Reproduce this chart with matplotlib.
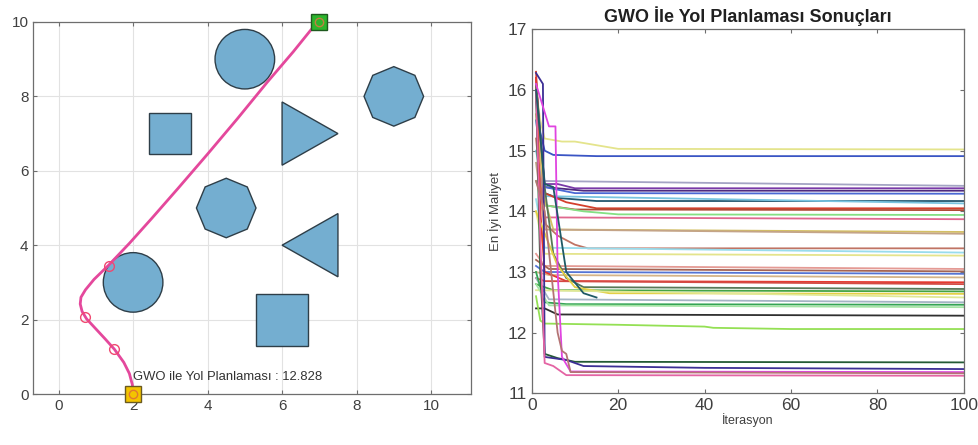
import numpy as np
import matplotlib
matplotlib.use("Agg")
import matplotlib.pyplot as plt
from matplotlib.patches import Circle, Rectangle, Polygon

plt.rcParams['font.family'] = ['Liberation Sans', 'DejaVu Sans']

# ---------------- Data: left panel ----------------
circle_obstacles = [(5.0, 9.0, 0.8), (2.0, 3.0, 0.8)]            # cx, cy, r
square_obstacles = [(3.0, 7.0, 1.12), (6.0, 2.0, 1.4)]           # cx, cy, side
octagon_obstacles = [(4.5, 5.0, 0.8), (9.0, 8.0, 0.8)]           # cx, cy, r
triangle_obstacles = [
    [(6.0, 7.85), (6.0, 6.15), (7.5, 7.0)],
    [(7.5, 4.85), (7.5, 3.15), (6.0, 4.0)],
]
path_x = [2.0, 1.98, 1.9, 1.75, 1.5, 1.25, 1.0, 0.75, 0.63, 0.58, 0.6, 0.72,
          0.95, 1.35, 1.9, 2.5, 3.2, 4.0, 4.8, 5.6, 6.3, 6.8, 7.0]
path_y = [0.0, 0.25, 0.55, 0.85, 1.2, 1.48, 1.75, 2.02, 2.22, 2.42, 2.6, 2.8,
          3.08, 3.47, 4.05, 4.72, 5.52, 6.45, 7.4, 8.38, 9.2, 9.82, 10.0]
waypoints_x = [1.5, 0.7, 1.35]
waypoints_y = [1.2, 2.08, 3.45]
start_pt = (2.0, 0.0)
goal_pt = (7.0, 10.0)
best_cost = 12.828
left_xticks = [0, 2, 4, 6, 8, 10]
left_yticks = [0, 2, 4, 6, 8, 10]

# ---------------- Data: right panel (convergence curves) ----------------
curve_colors = [
    '#e4e48c', '#3a55c4', '#a4a4c4', '#7a3aa8', '#4e2a80', '#4a68d4', '#22566e',
    '#78c4e0', '#d4402c', '#b04a34', '#84e084', '#e0688e', '#d4c064', '#c4a488',
    '#c07464', '#98dcec', '#e4e48c', '#e49a94', '#a46454', '#5474d4', '#d4b488',
    '#e43a30', '#d44a44', '#587858', '#44a444', '#e4d044', '#e0e894', '#a4b4c4',
    '#34a454', '#a4e4a4', '#303030', '#94e054', '#245a34', '#3c2e94', '#e044e0',
    '#e464a4', '#b47474', '#1f5a66',
]
curve_x = [
    [1, 2, 3, 7, 10, 20, 100],
    [1, 2, 3, 5, 15, 100],
    [1, 3, 100],
    [1, 2, 3, 6, 10, 100],
    [1, 3, 12, 100],
    [1, 3, 10, 100],
    [1, 3, 6, 15, 100],
    [1, 3, 100],
    [1, 2, 3, 8, 15, 100],
    [1, 3, 10, 100],
    [1, 3, 12, 20, 100],
    [1, 3, 100],
    [1, 3, 5, 100],
    [1, 3, 100],
    [1, 3, 6, 10, 13, 100],
    [1, 3, 100],
    [1, 3, 100],
    [1, 3, 100],
    [1, 4, 100],
    [1, 3, 100],
    [1, 4, 100],
    [1, 2, 3, 8, 100],
    [1, 3, 100],
    [1, 3, 5, 8, 12, 100],
    [1, 5, 100],
    [1, 6, 10, 18, 100],
    [1, 100],
    [1, 4, 100],
    [1, 3, 8, 100],
    [1, 4, 100],
    [1, 3, 6, 100],
    [1, 2, 3, 20, 40, 42, 60, 100],
    [1, 2, 3, 6, 10, 100],
    [1, 2.6, 3, 8, 12, 40, 100],
    [1, 4, 5.5, 6, 7, 9, 100],
    [1, 2, 3, 5, 8, 100],
    [1, 3, 6, 7, 8, 9, 100],
    [1, 3, 5, 8, 12, 15],
]
curve_y = [
    [16.0, 15.5, 15.2, 15.15, 15.15, 15.03, 15.02],
    [16.1, 15.3, 15.0, 14.93, 14.91, 14.91],
    [15.8, 14.5, 14.42],
    [16.2, 15.0, 14.45, 14.45, 14.38, 14.38],
    [16.0, 14.4, 14.34, 14.34],
    [15.5, 14.4, 14.3, 14.29],
    [15.9, 14.3, 14.22, 14.17, 14.17],
    [15.0, 14.25, 14.13],
    [16.3, 15.0, 14.3, 14.15, 14.05, 14.05],
    [16.1, 14.1, 14.03, 14.02],
    [14.5, 14.1, 14.0, 13.95, 13.94],
    [16.0, 13.9, 13.87],
    [15.6, 14.2, 13.7, 13.66],
    [14.8, 13.7, 13.63],
    [15.2, 13.8, 13.6, 13.45, 13.39, 13.39],
    [14.2, 13.4, 13.32],
    [14.0, 13.3, 13.27],
    [13.3, 13.1, 13.05],
    [13.2, 13.05, 13.01],
    [13.1, 13.0, 12.97],
    [13.0, 12.95, 12.91],
    [16.2, 14.0, 13.0, 12.85, 12.83],
    [12.9, 12.85, 12.80],
    [16.1, 14.4, 13.3, 12.9, 12.75, 12.72],
    [12.8, 12.7, 12.68],
    [14.0, 13.1, 12.75, 12.65, 12.64],
    [12.7, 12.58],
    [12.9, 12.55, 12.50],
    [13.0, 12.5, 12.47, 12.46],
    [12.8, 12.45, 12.42],
    [12.4, 12.4, 12.3, 12.28],
    [12.6, 12.2, 12.15, 12.13, 12.1, 12.08, 12.06, 12.06],
    [16.0, 13.0, 11.65, 11.58, 11.52, 11.51],
    [16.28, 16.1, 11.6, 11.55, 11.45, 11.42, 11.40],
    [16.1, 15.4, 15.4, 13.0, 11.6, 11.36, 11.35],
    [16.0, 13.5, 11.5, 11.45, 11.30, 11.29],
    [14.5, 14.0, 12.0, 11.7, 11.65, 11.35, 11.33],
    [16.0, 14.45, 14.4, 13.0, 12.65, 12.58],
]
right_xticks = [0, 20, 40, 60, 80, 100]
right_yticks = [11, 12, 13, 14, 15, 16, 17]

# ---------------- Figure ----------------
fig = plt.figure(figsize=(9.79, 4.45), dpi=100)
tick_color = '#404040'
spine_color = '#6e6e6e'
obst_face = '#74aed0'
obst_edge = '#2e3e48'
path_color = '#e4489c'

ax1 = fig.add_axes([0.0340, 0.1146, 0.4474, 0.8360])
for cx, cy, r in circle_obstacles:
    ax1.add_patch(Circle((cx, cy), r, fc=obst_face, ec=obst_edge, lw=1.0, zorder=2))
for cx, cy, s in square_obstacles:
    ax1.add_patch(Rectangle((cx - s / 2, cy - s / 2), s, s, fc=obst_face, ec=obst_edge, lw=1.0, zorder=2))
oct_angles = np.deg2rad(np.arange(0, 360, 45))
for cx, cy, r in octagon_obstacles:
    verts = np.column_stack([cx + r * np.cos(oct_angles), cy + r * np.sin(oct_angles)])
    ax1.add_patch(Polygon(verts, closed=True, fc=obst_face, ec=obst_edge, lw=1.0, zorder=2))
for tri in triangle_obstacles:
    ax1.add_patch(Polygon(tri, closed=True, fc=obst_face, ec=obst_edge, lw=1.0, zorder=2))

ax1.plot(path_x, path_y, color=path_color, lw=2.0, zorder=3, solid_capstyle='round')
ax1.plot(waypoints_x, waypoints_y, 'o', mfc='none', mec='#f04870', ms=7, mew=1.0, zorder=4)
ax1.plot([start_pt[0]], [start_pt[1]], 's', mfc='#f4c400', mec='#6a5a20', ms=11.5, mew=1.0, zorder=5, clip_on=False)
ax1.plot([start_pt[0]], [start_pt[1]], 'o', mfc='none', mec='#e07a30', ms=6, mew=1.0, zorder=6, clip_on=False)
ax1.plot([goal_pt[0]], [goal_pt[1]], 's', mfc='#2cb42c', mec='#1e5a1e', ms=11.5, mew=1.0, zorder=5, clip_on=False)
ax1.plot([goal_pt[0]], [goal_pt[1]], 'o', mfc='none', mec='#c08040', ms=6, mew=1.0, zorder=6, clip_on=False)
ax1.text(2.0, 0.46, f'GWO ile Yol Planlaması : {best_cost:.3f}', fontsize=9.4,
         color='#333333', ha='left', va='center', zorder=7)

ax1.set_xlim(-0.68, 11.08)
ax1.set_ylim(0, 10)
ax1.set_xticks(left_xticks)
ax1.set_yticks(left_yticks)
ax1.grid(True, color='#e2e2e2', lw=0.8)
ax1.set_axisbelow(True)

ax2 = fig.add_axes([0.5431, 0.1161, 0.4415, 0.8180])
for xs, ys, c in zip(curve_x, curve_y, curve_colors):
    ax2.plot(xs, ys, color=c, lw=1.3)
ax2.set_xlim(0, 100)
ax2.set_ylim(11, 17)
ax2.set_xticks(right_xticks)
ax2.set_yticks(right_yticks)
ax2.set_title('GWO İle Yol Planlaması Sonuçları', fontsize=13, fontweight='bold', color='#202020', pad=5)
ax2.set_xlabel('İterasyon', fontsize=9, color='#404040', labelpad=0)
ax2.set_ylabel('En İyi Maliyet', fontsize=9.5, color='#404040', labelpad=4)

for ax, ls in ((ax1, 11), (ax2, 12.5)):
    ax.tick_params(direction='in', length=3, width=0.8, colors=spine_color,
                   labelcolor=tick_color, labelsize=ls, top=True, right=True)
    for sp in ax.spines.values():
        sp.set_color(spine_color)
        sp.set_linewidth(0.9)

fig.savefig('out.png', dpi=100)
